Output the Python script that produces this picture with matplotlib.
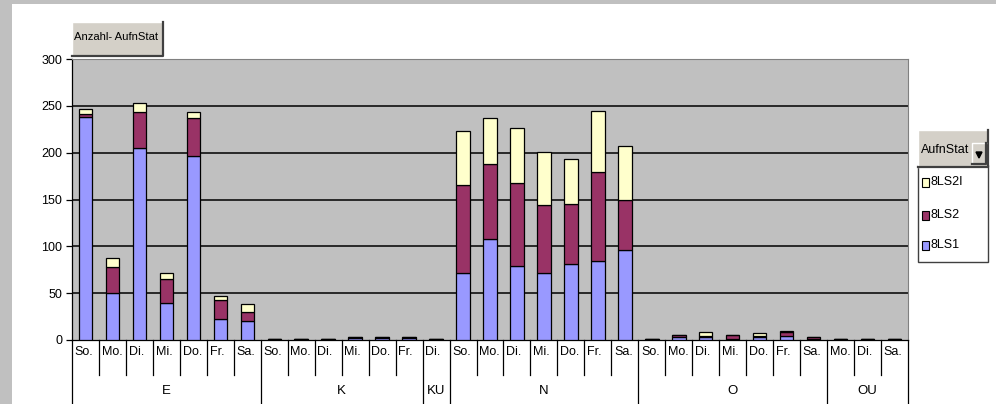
import matplotlib
matplotlib.use("Agg")
import matplotlib.pyplot as plt
from matplotlib.patches import Rectangle, Polygon
from matplotlib.lines import Line2D
import matplotlib.transforms as mtransforms

plt.rcParams['font.family'] = ['Liberation Sans Narrow', 'Liberation Sans', 'DejaVu Sans']

# ---- data -------------------------------------------------------------
groups = ["E", "K", "KU", "N", "O", "OU"]
group_days = [
    ["So.", "Mo.", "Di.", "Mi.", "Do.", "Fr.", "Sa."],
    ["So.", "Mo.", "Di.", "Mi.", "Do.", "Fr."],
    ["Di."],
    ["So.", "Mo.", "Di.", "Mi.", "Do.", "Fr.", "Sa."],
    ["So.", "Mo.", "Di.", "Mi.", "Do.", "Fr.", "Sa."],
    ["Mo.", "Di.", "Sa."],
]
series_names = ["8LS1", "8LS2", "8LS2I"]
ls1 = [238, 50, 205, 39, 196, 22, 20,
       1, 1, 1, 2, 2, 2,
       1,
       71, 108, 79, 71, 81, 84, 96,
       1, 3, 3, 1, 3, 4, 1,
       1, 1, 1]
ls2 = [3, 28, 38, 26, 41, 21, 10,
       0, 0, 0, 1, 1, 1,
       0,
       95, 80, 89, 73, 64, 95, 53,
       0, 2, 1, 4, 1, 5, 2,
       0, 0, 0]
ls2i = [6, 10, 10, 7, 6, 4, 8,
        0, 0, 0, 0, 0, 0,
        0,
        57, 49, 58, 57, 48, 66, 58,
        0, 0, 5, 0, 4, 1, 0,
        0, 0, 0]
y_ticks = [0, 50, 100, 150, 200, 250, 300]

colors = {"8LS1": "#9999ff", "8LS2": "#993366", "8LS2I": "#ffffcc"}

# ---- figure -----------------------------------------------------------
W, H = 996, 404
fig = plt.figure(figsize=(W / 100, H / 100), dpi=100)
fig.patch.set_facecolor("white")


def fx(x):
    return x / W


def fy(y):
    return 1 - y / H


# grey window frame on the left and top
fig.add_artist(Rectangle((0, 0), fx(12), 1, transform=fig.transFigure,
                         facecolor="#c0c0c0", edgecolor="none", zorder=0))
fig.add_artist(Rectangle((0, fy(4)), 1, 4 / H, transform=fig.transFigure,
                         facecolor="#c0c0c0", edgecolor="none", zorder=0))

ax_left, ax_right, ax_top, ax_bottom = 72, 908, 59, 340
ax = fig.add_axes([fx(ax_left), fy(ax_bottom), (ax_right - ax_left) / W,
                   (ax_bottom - ax_top) / H])
ax.set_facecolor("#c0c0c0")

n = len(ls1)
xs = list(range(n))
bottom2 = ls1
bottom3 = [a + b for a, b in zip(ls1, ls2)]
bar_kw = dict(width=0.5, edgecolor="black", linewidth=0.9, zorder=3)
ax.bar(xs, ls1, color=colors["8LS1"], **bar_kw)
ax.bar(xs, ls2, bottom=bottom2, color=colors["8LS2"], **bar_kw)
ax.bar(xs, ls2i, bottom=bottom3, color=colors["8LS2I"], **bar_kw)

ax.set_xlim(-0.5, n - 0.5)
ax.set_ylim(0, 300)
ax.set_yticks(y_ticks)
ax.set_yticklabels([str(v) for v in y_ticks], fontsize=9)
ax.tick_params(axis="y", direction="out", length=4, width=0.9, pad=3, colors="black")
ax.set_xticks([])
for v in y_ticks[1:]:
    ax.axhline(v, color="black", linewidth=1.1, zorder=1)

for side in ["top", "right"]:
    ax.spines[side].set_color("#808080")
    ax.spines[side].set_linewidth(0.8)
ax.spines["left"].set_color("black")
ax.spines["bottom"].set_color("black")
ax.spines["left"].set_linewidth(0.9)
ax.spines["bottom"].set_linewidth(0.9)

# ---- two-level category axis -----------------------------------------
trans = mtransforms.blended_transform_factory(ax.transData, ax.transAxes)
plot_h = ax_bottom - ax_top
row1 = -(375 - ax_bottom) / plot_h
row_end = -(H - ax_bottom) / plot_h
day_y = -(352 - ax_bottom) / plot_h
grp_y = -(391 - ax_bottom) / plot_h

idx = 0
group_edges = [-0.5]
for g, days in zip(groups, group_days):
    start = idx
    for d in days:
        ax.text(idx - 0.5 + 0.1, day_y, d, transform=trans, fontsize=9,
                ha="left", va="center")
        idx += 1
    group_edges.append(idx - 0.5)
    ax.text((start + idx - 1) / 2, grp_y, g, transform=trans, fontsize=9.5,
            ha="center", va="center")

for k in range(1, n):
    b = k - 0.5
    if b not in group_edges:
        ax.add_line(Line2D([b, b], [0, row1], transform=trans, color="black",
                           linewidth=0.9, clip_on=False))
for b in group_edges:
    ax.add_line(Line2D([b, b], [0, row_end], transform=trans, color="black",
                       linewidth=0.9, clip_on=False))


# ---- field buttons ----------------------------------------------------
def button(x0, y0, x1, y1, face="#d4d0c8"):
    fig.add_artist(Rectangle((fx(x0), fy(y1)), (x1 - x0) / W, (y1 - y0) / H,
                             transform=fig.transFigure, facecolor=face,
                             edgecolor="none", zorder=5))
    # light top/left edge, dark bottom/right edge
    fig.add_artist(Line2D([fx(x0), fx(x0), fx(x1)], [fy(y1), fy(y0), fy(y0)],
                          transform=fig.transFigure, color="white",
                          linewidth=1.0, zorder=6))
    fig.add_artist(Line2D([fx(x0), fx(x1), fx(x1)], [fy(y1), fy(y1), fy(y0)],
                          transform=fig.transFigure, color="#404040",
                          linewidth=1.6, zorder=6))


button(72, 22, 163, 56)
fig.text(fx(74), fy(37), "Anzahl- AufnStat", fontsize=8.1, ha="left",
         va="center", zorder=7)

# legend box
lx0, lx1 = 918, 988
fig.add_artist(Rectangle((fx(lx0), fy(262)), (lx1 - lx0) / W, (262 - 165) / H,
                         transform=fig.transFigure, facecolor="white",
                         edgecolor="#404040", linewidth=1.0, zorder=4))
button(lx0, 130, lx1, 167)
fig.text(fx(921), fy(150), "AufnStat", fontsize=9, ha="left", va="center",
         zorder=7)
button(972, 143, 986, 164)
fig.add_artist(Polygon([(fx(976), fy(152)), (fx(982), fy(152)),
                        (fx(979), fy(158))], closed=True,
                       transform=fig.transFigure, facecolor="black",
                       edgecolor="black", zorder=8))

legend_rows = [("8LS2I", 182), ("8LS2", 215), ("8LS1", 245)]
for name, yy in legend_rows:
    fig.add_artist(Rectangle((fx(922), fy(yy + 4.5)), 7 / W, 9 / H,
                             transform=fig.transFigure,
                             facecolor=colors[name], edgecolor="black",
                             linewidth=0.8, zorder=6))
    fig.text(fx(930), fy(yy), name, fontsize=9, ha="left", va="center",
             zorder=7)

fig.savefig("out.png", dpi=100, facecolor=fig.get_facecolor())
